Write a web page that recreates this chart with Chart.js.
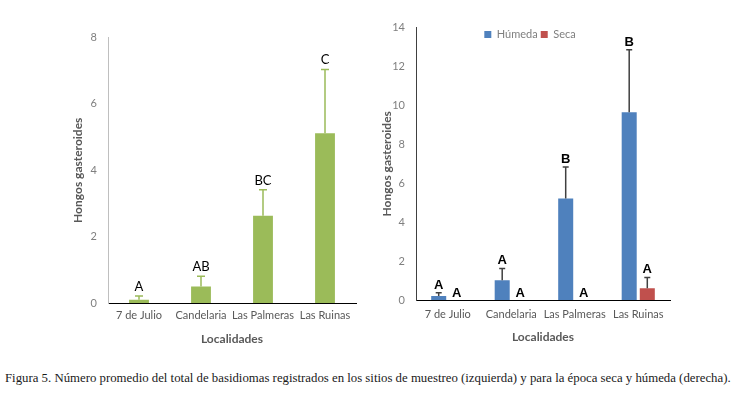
<!DOCTYPE html>
<html>
<head>
<meta charset="utf-8">
<script src="https://cdn.jsdelivr.net/npm/chart.js@4.4.0/dist/chart.umd.min.js"></script>
<style>
  html, body { margin: 0; padding: 0; background: #fff; }
  body { width: 739px; height: 393px; position: relative; overflow: hidden; }
  #leftBox { position: absolute; left: 60px; top: 20px; width: 300px; height: 330px; }
  #rightBox { position: absolute; left: 370px; top: 10px; width: 330px; height: 340px; }
  #caption {
    position: absolute; left: 5px; top: 371px; white-space: nowrap;
    font-family: "Liberation Serif", "DejaVu Serif", serif; font-size: 12.8px; color: #1a1a1a;
  }
</style>
</head>
<body>
<div id="leftBox"><canvas id="leftChart"></canvas></div>
<div id="rightBox"><canvas id="rightChart"></canvas></div>
<div id="caption">Figura 5. Número promedio del total de basidiomas registrados en los sitios de muestreo (izquierda) y para la época seca y húmeda (derecha).</div>

<script>
// Data
const localidades = ['7 de Julio', 'Candelaria', 'Las Palmeras', 'Las Ruinas'];

// left chart: all samples
const totalMean = [0.1, 0.5, 2.63, 5.12];
const totalErr = [0.11, 0.31, 0.78, 1.92];
const totalLetters = ['A', 'AB', 'BC', 'C'];
const leftTicks = [0, 2, 4, 6, 8];

// right chart: by season
const humedaMean = [0.2, 1.02, 5.22, 9.65];
const humedaErr = [0.17, 0.6, 1.61, 3.21];
const humedaLetters = ['A', 'A', 'B', 'B'];
const secaMean = [0, 0, 0, 0.6];
const secaErr = [0, 0, 0, 0.56];
const secaLetters = ['A', 'A', 'A', 'A'];
const rightTicks = [0, 2, 4, 6, 8, 10, 12, 14];

const GREEN = '#9BBB59';
const BLUE = '#4F81BD';
const RED = '#C0504D';
const TICK_FONT = { family: 'Lato', size: 11 };
const TITLE_FONT = { family: 'Lato', size: 12, weight: 'bold' };

// Draws the upper error bars and the letter labels above each bar
const errorBarPlugin = {
    id: 'errorBars',
    afterDatasetsDraw(chart, args, opts) {
        const ctx = chart.ctx;
        const yScale = chart.scales.y;
        ctx.save();
        chart.data.datasets.forEach((ds, i) => {
            const meta = chart.getDatasetMeta(i);
            meta.data.forEach((bar, j) => {
                const v = ds.data[j];
                const e = ds.errors[j] || 0;
                const yTop = yScale.getPixelForValue(v + e);
                if (e > 0) {
                    ctx.strokeStyle = ds.errorColor;
                    ctx.lineWidth = 1.5;
                    ctx.beginPath();
                    ctx.moveTo(bar.x, yScale.getPixelForValue(v));
                    ctx.lineTo(bar.x, yTop);
                    ctx.moveTo(bar.x - opts.cap, yTop);
                    ctx.lineTo(bar.x + opts.cap, yTop);
                    ctx.stroke();
                }
                ctx.fillStyle = '#000';
                ctx.font = opts.font;
                ctx.textAlign = 'center';
                ctx.textBaseline = 'alphabetic';
                ctx.fillText(ds.letters[j], bar.x, yTop - (e > 0 ? opts.gap : opts.zeroGap));
            });
        });
        ctx.restore();
    }
};

// Moves the legend down (and a bit right) so it sits inside the plot, like the original
const legendShift = {
    id: 'legendShift',
    afterLayout(chart, args, opts) {
        const lg = chart.legend;
        if (!lg) return;
        const h = lg.bottom - lg.top;
        lg.top = opts.top;
        lg.bottom = opts.top + h;
        lg.left += opts.dx;
        lg.right += opts.dx;
    }
};

function makeScales(ticks, yWidth, xHeight, yBorder, tickPad, yTitlePad, xTitlePad) {
    return {
        x: {
            grid: { display: false, drawTicks: false },
            border: { color: '#000', width: 1 },
            ticks: { color: '#595959', font: TICK_FONT, padding: tickPad, maxRotation: 0, autoSkip: false },
            title: { display: true, text: 'Localidades', color: '#595959', font: TITLE_FONT, padding: { top: 0, bottom: xTitlePad } },
            afterFit: s => { s.height = xHeight; }
        },
        y: {
            min: 0,
            max: ticks[ticks.length - 1],
            grid: { display: false, drawTicks: false },
            border: { color: yBorder, width: 1 },
            afterBuildTicks: s => { s.ticks = ticks.map(v => ({ value: v })); },
            ticks: { color: '#7f7f7f', font: TICK_FONT, padding: 11 },
            title: { display: true, text: 'Hongos gasteroides', color: '#595959', font: TITLE_FONT, padding: { top: yTitlePad, bottom: 0 } },
            afterFit: s => { s.width = yWidth; }
        }
    };
}

new Chart(document.getElementById('leftChart'), {
    type: 'bar',
    data: {
        labels: localidades,
        datasets: [{
            label: 'Total',
            data: totalMean,
            errors: totalErr,
            letters: totalLetters,
            errorColor: GREEN,
            backgroundColor: GREEN,
            categoryPercentage: 0.8,
            barPercentage: 0.4
        }]
    },
    options: {
        responsive: true,
        maintainAspectRatio: false,
        animation: false,
        layout: { padding: { top: 17, right: 4, left: 0, bottom: 0 } },
        plugins: {
            legend: { display: false },
            tooltip: { enabled: false },
            errorBars: { cap: 4, gap: 5, zeroGap: 4, font: '13px Lato' }
        },
        scales: makeScales(leftTicks, 48, 47, '#bfbfbf', 6, 11, 4)
    },
    plugins: [errorBarPlugin]
});

new Chart(document.getElementById('rightChart'), {
    type: 'bar',
    data: {
        labels: localidades,
        datasets: [{
            label: 'Húmeda',
            data: humedaMean,
            errors: humedaErr,
            letters: humedaLetters,
            errorColor: '#404040',
            backgroundColor: BLUE,
            categoryPercentage: 0.57,
            barPercentage: 0.83
        }, {
            label: 'Seca',
            data: secaMean,
            errors: secaErr,
            letters: secaLetters,
            errorColor: '#404040',
            backgroundColor: RED,
            categoryPercentage: 0.57,
            barPercentage: 0.83
        }]
    },
    options: {
        responsive: true,
        maintainAspectRatio: false,
        animation: false,
        layout: { padding: { top: 0, right: 30, left: 0, bottom: 0 } },
        plugins: {
            legend: {
                position: 'top',
                maxHeight: 17,
                labels: { boxWidth: 7, boxHeight: 7, padding: 3, color: '#7f7f7f', font: { family: 'Lato', size: 11 } }
            },
            legendShift: { top: 16, dx: 10 },
            tooltip: { enabled: false },
            errorBars: { cap: 3, gap: 4, zeroGap: 3, font: 'bold 13px "Liberation Sans"' }
        },
        scales: makeScales(rightTicks, 46, 50, '#404040', 8, 10, 6)
    },
    plugins: [errorBarPlugin, legendShift]
});
</script>
</body>
</html>
